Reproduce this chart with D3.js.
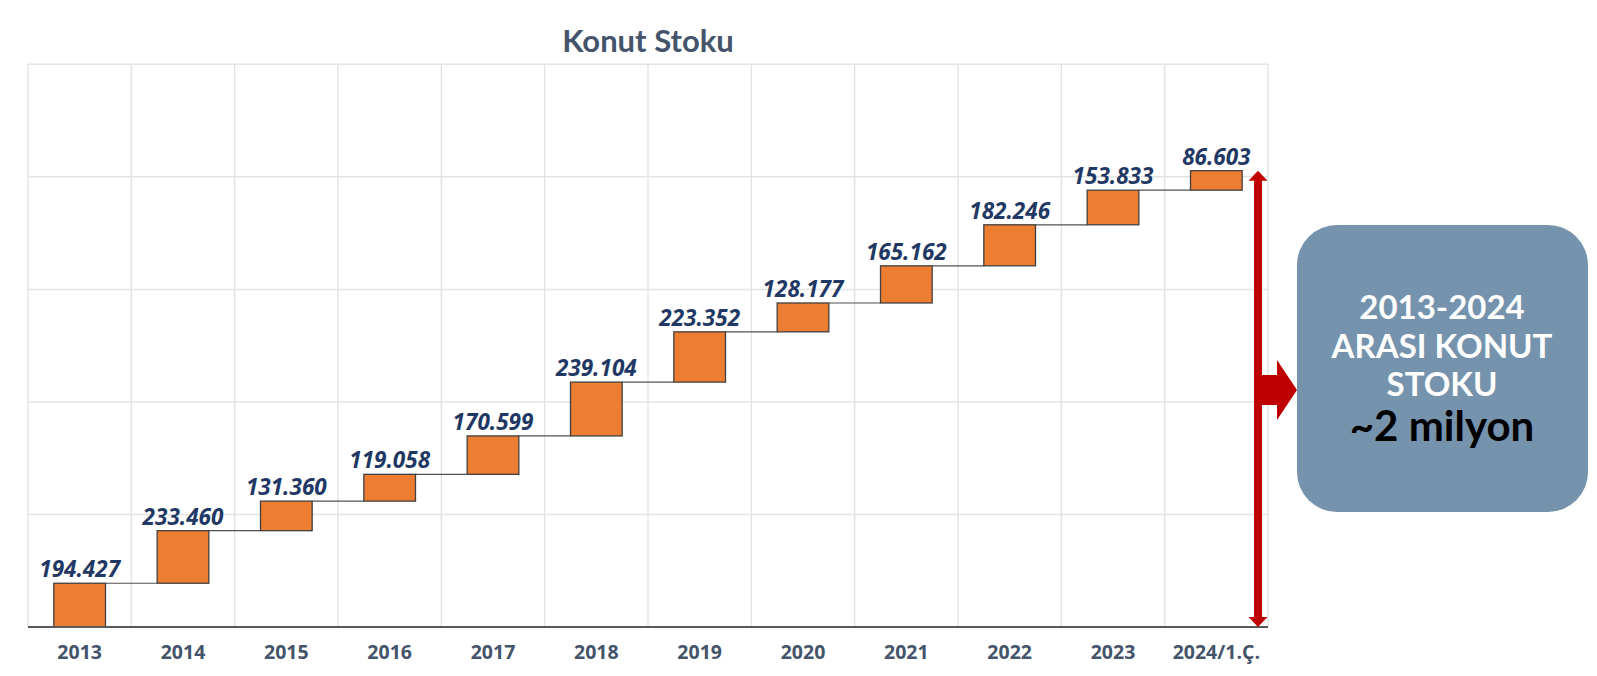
<!DOCTYPE html>
<html>
<head>
<meta charset="utf-8">
<script src="https://cdn.jsdelivr.net/npm/d3@7"></script>
<style>
  html, body { margin: 0; padding: 0; background: #fff; }
  svg { display: block; }
</style>
</head>
<body>
<svg id="chart" width="1597" height="676"></svg>
<script>
const categories = ["2013","2014","2015","2016","2017","2018","2019","2020","2021","2022","2023","2024/1.Ç."];
const values = [194427,233460,131360,119058,170599,239104,223352,128177,165162,182246,153833,86603];
const valueLabels = ["194.427","233.460","131.360","119.058","170.599","239.104","223.352","128.177","165.162","182.246","153.833","86.603"];
const yTicks = [0,500000,1000000,1500000,2000000,2500000];
const titleText = "Konut Stoku";
const boxLines = ["2013-2024","ARASI KONUT","STOKU"];
const boxTotal = "~2 milyon";

const svg = d3.select("#chart");
const plotL = 28, plotR = 1268, plotT = 64.3, plotB = 627;

// cumulative
let acc = 0;
const bars = values.map((v,i) => { const start = acc; acc += v; return {cat: categories[i], start, end: acc, label: valueLabels[i]}; });
const total = acc;

const x = d3.scaleBand().domain(categories).range([plotL, plotR]).paddingInner(0.5).paddingOuter(0.25);
const y = d3.scaleLinear().domain([0, 2500000]).range([plotB, plotT]);
const step = x.step();

// gridlines
const grid = svg.append("g");
grid.selectAll("line.h").data(yTicks.slice(1)).join("line")
  .attr("x1", plotL).attr("x2", plotR)
  .attr("y1", d => y(d)).attr("y2", d => y(d))
  .attr("stroke", "#e4e4e6").attr("stroke-width", 1.5);
const vBounds = d3.range(categories.length + 1);
grid.selectAll("line.v").data(vBounds).join("line")
  .attr("x1", k => plotL + k*step).attr("x2", k => plotL + k*step)
  .attr("y1", plotT).attr("y2", plotB)
  .attr("stroke", "#e4e4e6").attr("stroke-width", 1.5);

// connectors
svg.append("g").selectAll("line").data(bars.slice(0, -1)).join("line")
  .attr("x1", (d) => x(d.cat) + x.bandwidth())
  .attr("x2", (d,i) => x(bars[i+1].cat))
  .attr("y1", d => y(d.end)).attr("y2", d => y(d.end))
  .attr("stroke", "#505050").attr("stroke-width", 1.2);

// bars
svg.append("g").selectAll("rect").data(bars).join("rect")
  .attr("x", d => x(d.cat)).attr("width", x.bandwidth())
  .attr("y", d => y(d.end)).attr("height", d => y(d.start) - y(d.end))
  .attr("fill", "#ED7D31").attr("stroke", "#404040").attr("stroke-width", 1.3);

// value labels
svg.append("g").selectAll("text").data(bars).join("text")
  .attr("x", d => x(d.cat) + x.bandwidth()/2)
  .attr("y", d => y(d.end) - 6)
  .attr("text-anchor", "middle")
  .attr("font-family", "'Open Sans', sans-serif")
  .attr("font-weight", 700).attr("font-style", "italic")
  .attr("font-size", 22.5)
  .attr("fill", "#1F3864")
  .text(d => d.label);

// x axis line
svg.append("line").attr("x1", plotL).attr("x2", plotR).attr("y1", plotB).attr("y2", plotB)
  .attr("stroke", "#595959").attr("stroke-width", 2);

// x labels
svg.append("g").selectAll("text").data(categories).join("text")
  .attr("x", d => x(d) + x.bandwidth()/2)
  .attr("y", 659)
  .attr("text-anchor", "middle")
  .attr("font-family", "'Open Sans', sans-serif")
  .attr("font-weight", 700).attr("font-size", 19.5)
  .attr("fill", "#44546A")
  .text(d => d);

// title
svg.append("text").attr("x", 648).attr("y", 52).attr("text-anchor", "middle")
  .attr("font-family", "Lato, sans-serif").attr("font-weight", 700).attr("font-size", 31)
  .attr("fill", "#44546A").text(titleText);

// red arrows
const ax = 1258, sw = 4, hw = 9.5, hh = 10;
const yT = y(total), yB = y(0);
const red = "#C00000";
svg.append("path").attr("fill", red).attr("d",
  `M${ax},${yT} L${ax+hw},${yT+hh} L${ax+sw},${yT+hh} L${ax+sw},${yB-hh} L${ax+hw},${yB-hh} L${ax},${yB} L${ax-hw},${yB-hh} L${ax-sw},${yB-hh} L${ax-sw},${yT+hh} L${ax-hw},${yT+hh} Z`);
const my = 390, tipX = 1297, baseX = 1277;
svg.append("path").attr("fill", red).attr("d",
  `M${ax+sw-1},${my-15} L${baseX},${my-15} L${baseX},${my-30} L${tipX},${my} L${baseX},${my+30} L${baseX},${my+15} L${ax+sw-1},${my+15} Z`);

// box
svg.append("rect").attr("x", 1297).attr("y", 225).attr("width", 291).attr("height", 287)
  .attr("rx", 40).attr("ry", 40).attr("fill", "#7593AD");
const bx = 1442;
const lineYs = [319, 358, 396];
svg.append("g").selectAll("text").data(boxLines).join("text")
  .attr("x", bx).attr("y", (d,i) => lineYs[i]).attr("text-anchor", "middle")
  .attr("font-family", "Lato, sans-serif").attr("font-weight", 700).attr("font-size", 33)
  .attr("fill", "#ffffff").text(d => d);
svg.append("text").attr("x", bx).attr("y", 441).attr("text-anchor", "middle")
  .attr("font-family", "Lato, sans-serif").attr("font-weight", 700).attr("font-size", 42)
  .attr("fill", "#000000").text(boxTotal);
</script>
</body>
</html>
